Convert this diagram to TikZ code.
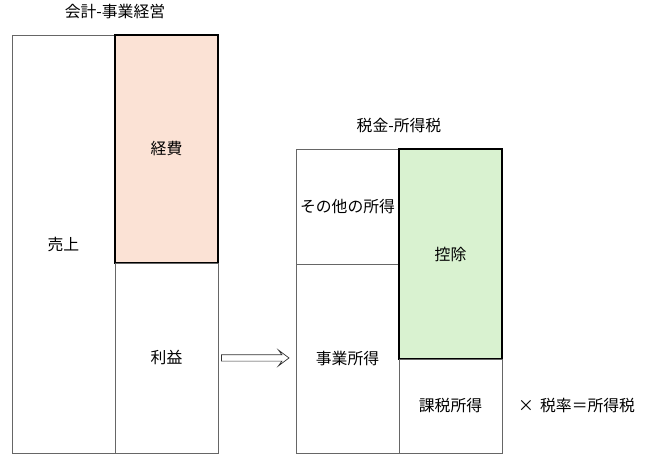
\documentclass[tikz,border=0pt]{standalone}
\usepackage{fontspec}
\setmainfont{Noto Sans CJK JP}
\usetikzlibrary{positioning}
\definecolor{costfill}{HTML}{FBE2D5}
\definecolor{dedfill}{HTML}{D9F2D0}

\begin{document}
\begin{tikzpicture}[
	x=0.02cm, y=-0.02cm,
	box/.style = {
		draw=black!60, rectangle, align=center, font=\small,
		inner sep=0pt, outer sep=0pt, minimum width=2.06cm},
	costbox/.style = {box, draw=black, thick, fill=costfill},
	dedbox/.style = {box, draw=black, thick, fill=dedfill},
	title/.style = {font=\small},
	arrow/.style = {black!80, line join=miter}
]
\useasboundingbox (0,0) rectangle (650,460);

% 会計
\node (sales)  [box, minimum height=8.36cm] at (63.5,244) {売上};
\node (cost)   [costbox, minimum height=4.56cm] at (166.5,149) {経費};
\node (profit) [box, minimum height=3.80cm, below=0pt of cost] {利益};
\node [title, above=2mm of sales.north east] {会計-事業経営};

% 税金
\node (other)  [box, minimum height=2.30cm] at (347.5,206.5) {その他の所得};
\node (biz)    [box, minimum height=3.78cm, below=0pt of other] {事業所得};
\node (deduct) [dedbox, minimum height=4.20cm] at (450.5,254) {控除};
\node (taxable)[box, minimum height=1.88cm, below=0pt of deduct] {課税所得};
\node [title, above=2mm of other.north east] {税金-所得税};
\node (rate) [font=\small, right=2mm of taxable] {×\, 税率＝所得税};

% 白抜き矢印
\coordinate (a) at ([xshift=2pt] profit.east);
\coordinate (b) at ([xshift=-4pt] biz.west |- a);
\draw[arrow] ([yshift=1.8pt]a) -- ([yshift=1.8pt,xshift=-4pt]b)
             -- ([yshift=4.5pt,xshift=-6pt]b) -- (b)
             -- ([yshift=-4.5pt,xshift=-6pt]b) -- ([yshift=-1.8pt,xshift=-4pt]b)
             -- ([yshift=-1.8pt]a) -- cycle;
\end{tikzpicture}
\end{document}
